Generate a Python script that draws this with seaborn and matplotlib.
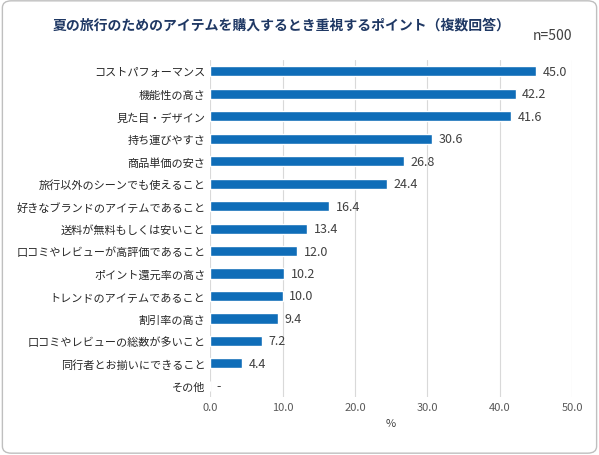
import matplotlib
matplotlib.use("Agg")
import matplotlib.pyplot as plt
import seaborn as sns
import pandas as pd
from matplotlib.patches import FancyBboxPatch

items = ["コストパフォーマンス", "機能性の高さ", "見た目・デザイン", "持ち運びやすさ", "商品単価の安さ",
         "旅行以外のシーンでも使えること", "好きなブランドのアイテムであること", "送料が無料もしくは安いこと",
         "口コミやレビューが高評価であること", "ポイント還元率の高さ", "トレンドのアイテムであること",
         "割引率の高さ", "口コミやレビューの総数が多いこと", "同行者とお揃いにできること", "その他"]
values = [45.0, 42.2, 41.6, 30.6, 26.8, 24.4, 16.4, 13.4, 12.0, 10.2, 10.0, 9.4, 7.2, 4.4, 0.0]
labels = ["45.0", "42.2", "41.6", "30.6", "26.8", "24.4", "16.4", "13.4", "12.0", "10.2", "10.0", "9.4", "7.2", "4.4", "-"]
df = pd.DataFrame({"item": items, "value": values})

sns.set_style("white")
plt.rcParams['font.family'] = ['Noto Sans CJK JP', 'DejaVu Sans']

fig = plt.figure(figsize=(5.99, 4.56), dpi=100)
fig.patches.append(FancyBboxPatch((0.004, 0.004), 0.992, 0.992, boxstyle="round,pad=0,rounding_size=0.015",
                                  transform=fig.transFigure, fill=False, edgecolor="#bfbfbf", linewidth=1))
ax = fig.add_axes([0.351, 0.127, 0.604, 0.739])
sns.barplot(data=df, x="value", y="item", color="#0f6db8", width=0.45, ax=ax, saturation=1)
for i, (v, l) in enumerate(zip(values, labels)):
    ax.text(v + 0.9, i, l, va="center", ha="left", fontsize=9, color="#404040")
ax.set_xlim(0, 50)
ax.set_xticks([0, 10, 20, 30, 40, 50])
ax.set_xticklabels(["0.0", "10.0", "20.0", "30.0", "40.0", "50.0"], fontsize=8, color="#595959")
ax.tick_params(axis="y", labelsize=8, colors="#262626", length=0)
ax.tick_params(axis="x", length=0)
ax.set_ylabel("")
ax.set_xlabel("%", fontsize=8, color="#404040")
ax.grid(axis="x", color="#d9d9d9", linewidth=0.8)
ax.set_axisbelow(True)
for s in ax.spines.values():
    s.set_visible(False)
fig.text(0.47, 0.945, "夏の旅行のためのアイテムを購入するとき重視するポイント（複数回答）",
         ha="center", va="center", fontsize=10, fontweight="bold", color="#1f3864")
fig.text(0.955, 0.92, "n=500", ha="right", va="center", fontsize=10, color="#404040")
fig.savefig("out.png", dpi=100)
